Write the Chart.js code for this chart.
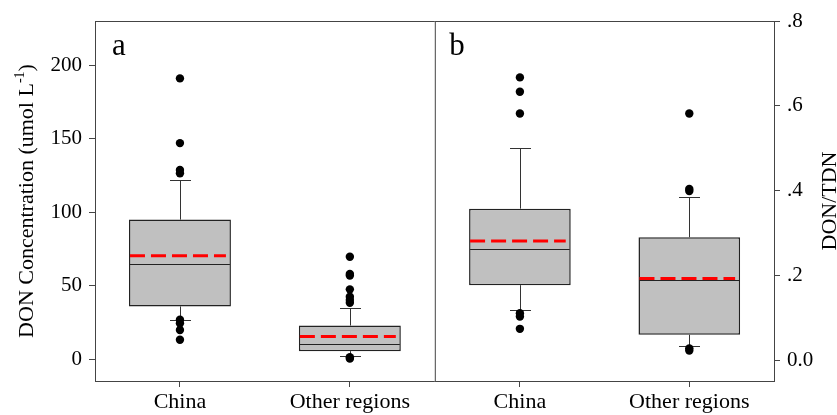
<!DOCTYPE html>
<html>
<head>
<meta charset="utf-8">
<script src="https://cdn.jsdelivr.net/npm/chart.js@4.4.0/dist/chart.umd.min.js"></script>
<style>
  body { margin: 0; background: #fff; }
  #wrap { position: relative; width: 837px; height: 415px; overflow: hidden; }
  canvas { position: absolute; top: 0; }
  #chartA { left: 0; }
  #chartB { left: 435px; }
</style>
</head>
<body>
<div id="wrap">
  <canvas id="chartA" width="436" height="415"></canvas>
  <canvas id="chartB" width="402" height="415"></canvas>
</div>
<script>
const categories = ['China', 'Other regions'];

// panel a: DON concentration (umol L-1)
const aQ1 = [36, 5.6];
const aQ3 = [95, 23];
const aMedian = [64.6, 10.2];
const aMean = [70.5, 15.6];
const aWhiskerLow = [26.5, 2];
const aWhiskerHigh = [122, 35];
const aOutChina = [191, 147, 128.8, 126.5, 27, 24.5, 20, 13.3];
const aOutOther = [69.8, 58, 57, 47.6, 42.6, 40.3, 38.5, 1.4, 0.5];
const aTicks = [0, 50, 100, 150, 200];

// panel b: DON/TDN
const bQ1 = [0.177, 0.060];
const bQ3 = [0.3575, 0.29];
const bMedian = [0.2625, 0.1887];
const bMean = [0.281, 0.1925];
const bWhiskerLow = [0.119, 0.034];
const bWhiskerHigh = [0.5, 0.384];
const bOutChina = [0.667, 0.633, 0.582, 0.111, 0.103, 0.074];
const bOutOther = [0.582, 0.404, 0.399, 0.028, 0.023];
const bTicks = [0, 0.2, 0.4, 0.6, 0.8];
const bTickLabels = ['0.0', '.2', '.4', '.6', '.8'];

const FONT = '"Liberation Serif", "Times New Roman", serif';
const FRAME = '#444';
const DIVIDER_X = 435;

// whiskers under the boxes, median + mean lines on top
const boxExtras = {
  id: 'boxExtras',
  beforeDatasetsDraw(chart, args, opts) {
    const ctx = chart.ctx, y = chart.scales.y;
    const meta = chart.getDatasetMeta(0);
    ctx.save();
    ctx.strokeStyle = '#333';
    ctx.lineWidth = 1;
    meta.data.forEach((bar, i) => {
      const x = Math.round(bar.x) + 0.5;
      const pairs = [[opts.q3[i], opts.high[i]], [opts.q1[i], opts.low[i]]];
      pairs.forEach(([from, to]) => {
        const yTo = Math.round(y.getPixelForValue(to)) + 0.5;
        ctx.beginPath();
        ctx.moveTo(x, y.getPixelForValue(from));
        ctx.lineTo(x, yTo);
        ctx.moveTo(x - 10.5, yTo);
        ctx.lineTo(x + 10.5, yTo);
        ctx.stroke();
      });
    });
    ctx.restore();
  },
  afterDatasetsDraw(chart, args, opts) {
    const ctx = chart.ctx, y = chart.scales.y;
    const meta = chart.getDatasetMeta(0);
    ctx.save();
    meta.data.forEach((bar, i) => {
      const left = bar.x - bar.width / 2 + 1;
      const right = bar.x + bar.width / 2 - 1;
      const ym = Math.round(y.getPixelForValue(opts.median[i])) + 0.5;
      ctx.strokeStyle = '#222';
      ctx.lineWidth = 1;
      ctx.setLineDash([]);
      ctx.beginPath();
      ctx.moveTo(left, ym);
      ctx.lineTo(right, ym);
      ctx.stroke();
      const yMean = y.getPixelForValue(opts.mean[i]);
      ctx.strokeStyle = '#ff0000';
      ctx.lineWidth = 3;
      ctx.setLineDash([15, 6]);
      ctx.beginPath();
      ctx.moveTo(left, yMean);
      ctx.lineTo(right - 4, yMean);
      ctx.stroke();
    });
    ctx.restore();
  },
  afterDraw(chart, args, opts) {
    const ctx = chart.ctx, a = chart.chartArea;
    ctx.save();
    ctx.strokeStyle = FRAME;
    ctx.lineWidth = 1;
    ctx.beginPath();
    ctx.moveTo(a.left, a.top + 0.5);
    ctx.lineTo(a.right, a.top + 0.5);
    ctx.moveTo(a.left, a.bottom + 0.5);
    ctx.lineTo(a.right, a.bottom + 0.5);
    opts.sides.forEach(s => {
      const x = (s === 'left' ? a.left : a.right) + 0.5;
      ctx.moveTo(x, a.top);
      ctx.lineTo(x, a.bottom + 1);
    });
    ctx.stroke();

    ctx.fillStyle = '#000';
    ctx.textBaseline = 'alphabetic';
    ctx.font = '31px ' + FONT;
    ctx.fillText(opts.panel, a.left + opts.panelDx, 55);

    // rotated axis title, with optional superscript
    const tx = opts.titleFromRight ? chart.width - opts.titleFromRight : opts.titleX;
    ctx.translate(tx, (a.top + a.bottom) / 2);
    ctx.rotate(-Math.PI / 2);
    ctx.font = '22px ' + FONT;
    const wMain = ctx.measureText(opts.title).width;
    const wClose = opts.close ? ctx.measureText(opts.close).width : 0;
    ctx.font = '14px ' + FONT;
    const wSup = opts.sup ? ctx.measureText(opts.sup).width : 0;
    let x0 = -(wMain + wSup + wClose) / 2;
    ctx.font = '22px ' + FONT;
    ctx.fillText(opts.title, x0, 0);
    if (opts.sup) {
      ctx.font = '14px ' + FONT;
      ctx.fillText(opts.sup, x0 + wMain, -9);
      ctx.font = '22px ' + FONT;
      ctx.fillText(opts.close, x0 + wMain + wSup, 0);
    }
    ctx.restore();
  }
};

function outlierPoints(china, other) {
  return china.map(v => ({ x: categories[0], y: v }))
    .concat(other.map(v => ({ x: categories[1], y: v })));
}

function buildChart(canvas, s) {
  return new Chart(canvas, {
    type: 'bar',
    data: {
      labels: categories,
      datasets: [
        {
          data: s.q1.map((v, i) => [v, s.q3[i]]),
          backgroundColor: '#c0c0c0',
          borderColor: '#222',
          borderWidth: 1.5,
          borderSkipped: false,
          barPercentage: 0.6,
          categoryPercentage: 1.0,
          order: 1
        },
        {
          type: 'scatter',
          data: outlierPoints(s.outChina, s.outOther),
          backgroundColor: '#000',
          borderWidth: 0,
          pointRadius: 4.2,
          order: 0
        }
      ]
    },
    options: {
      responsive: false,
      animation: false,
      layout: { padding: s.padding },
      plugins: {
        legend: { display: false },
        tooltip: { enabled: false },
        boxExtras: s.extras
      },
      scales: {
        x: {
          offset: true,
          grid: { offset: false, drawOnChartArea: false, drawTicks: true, tickLength: 6, color: FRAME },
          border: { display: false },
          ticks: { font: { family: FONT, size: 22 }, color: '#000', padding: 2 },
          afterFit: sc => { sc.height = 34; sc.paddingLeft = 0; sc.paddingRight = 0; }
        },
        y: {
          position: s.yPos,
          min: s.min,
          max: s.max,
          afterBuildTicks: sc => { sc.ticks = s.ticks.map(v => ({ value: v })); },
          grid: { drawOnChartArea: false, drawTicks: true, tickLength: 6, color: FRAME },
          border: { display: false },
          ticks: {
            font: { family: FONT, size: 21 },
            color: '#000',
            padding: 7,
            callback: (v, i) => s.labels[i]
          },
          afterFit: sc => { sc.width = s.yWidth; }
        }
      }
    },
    plugins: [boxExtras]
  });
}

// the inner edges must meet at the divider; widen a canvas if the layout eats some pixels
function placeLeft(s) {
  const canvas = document.getElementById('chartA');
  let w = 436, chart = buildChart(canvas, s);
  for (let k = 0; k < 3; k++) {
    const loss = DIVIDER_X - chart.chartArea.right;
    if (Math.abs(loss) < 0.5) break;
    chart.destroy();
    w += loss;
    canvas.width = w; canvas.height = 415;
    chart = buildChart(canvas, s);
  }
  return chart;
}

function placeRight(s) {
  const canvas = document.getElementById('chartB');
  let left = DIVIDER_X, w = 402, chart = buildChart(canvas, s);
  for (let k = 0; k < 3; k++) {
    const loss = left + chart.chartArea.left - DIVIDER_X;
    if (Math.abs(loss) < 0.5) break;
    chart.destroy();
    left -= loss; w += loss;
    canvas.style.left = left + 'px';
    canvas.width = w; canvas.height = 415;
    chart = buildChart(canvas, s);
  }
  return chart;
}

placeLeft({
  q1: aQ1, q3: aQ3, outChina: aOutChina, outOther: aOutOther,
  min: -14.7, max: 230, ticks: aTicks, labels: aTicks.map(String),
  yPos: 'left', yWidth: 95,
  padding: { top: 21, right: 1, left: 0, bottom: 0 },
  extras: {
    q1: aQ1, q3: aQ3, low: aWhiskerLow, high: aWhiskerHigh, median: aMedian, mean: aMean,
    sides: ['left', 'right'], panel: 'a', panelDx: 17,
    titleX: 33, title: 'DON Concentration (umol L', sup: '-1', close: ')'
  }
});

placeRight({
  q1: bQ1, q3: bQ3, outChina: bOutChina, outOther: bOutOther,
  min: -0.049, max: 0.8, ticks: bTicks, labels: bTickLabels,
  yPos: 'right', yWidth: 63,
  padding: { top: 21, right: 0, left: 0, bottom: 0 },
  extras: {
    q1: bQ1, q3: bQ3, low: bWhiskerLow, high: bWhiskerHigh, median: bMedian, mean: bMean,
    sides: ['right'], panel: 'b', panelDx: 14,
    titleFromRight: 1, title: 'DON/TDN'
  }
});
</script>
</body>
</html>
